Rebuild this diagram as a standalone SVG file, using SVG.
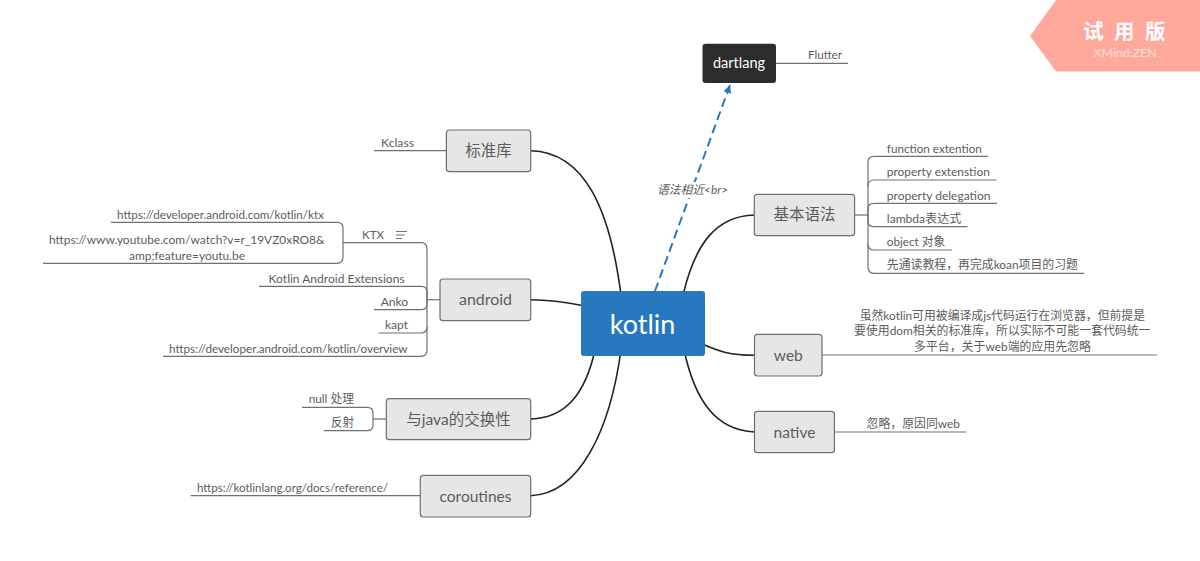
<svg xmlns="http://www.w3.org/2000/svg" width="1200" height="561" viewBox="0 0 1200 561">
<style>
text{font-family:"Lato","Noto Sans CJK SC","Noto Sans",sans-serif;fill:#5c5c5c}
.n{fill:#e6e6e6;stroke:#6f6f6f;stroke-width:1.2}
.t{font-size:15.5px;text-anchor:middle}
.l{font-size:12px;font-weight:400}
.c{fill:none;stroke:#222;stroke-width:1.6}
.b{fill:none;stroke:#707070;stroke-width:1.2}
</style>
<defs>
<marker id="ah" markerUnits="userSpaceOnUse" markerWidth="10" markerHeight="10" refX="8" refY="4" orient="auto"><path d="M0 0L8 4L0 8Z" fill="#2878c0"/></marker>
</defs>
<rect width="1200" height="561" fill="#fff"/>
<g id="connectors">
<path class="c" d="M530.7 150.7C585 152 610 210 621 295"/>
<path class="c" d="M530.7 299.7C550 299.7 565 302 585 306"/>
<path class="c" d="M530.7 419C565 418 585 395 595 350"/>
<path class="c" d="M530.7 495.7C580 494 610 430 621 350"/>
<path class="c" d="M754.5 215C715 216 695 245 683 295"/>
<path class="c" d="M754.5 355.3C730 355 720 352 700 343"/>
<path class="c" d="M754.5 432C715 430 695 400 684 350"/>
<path d="M655 291L730 85" fill="none" stroke="#2878c0" stroke-width="2" stroke-dasharray="9 5" marker-end="url(#ah)"/>
<path class="b" d="M374 150.7H446.4"/>
<path class="b" d="M440 299.700H427"/>
<path class="b" d="M343 242.700H421Q427 242.700 427 249V350Q427 356.300 421 356.300H163"/>
<path class="b" d="M259 286.300H421Q427 286.300 427 292V304Q427 309.700 421 309.700H374"/>
<path class="b" d="M378.600 333H421Q427 333 427 327"/>
<path class="b" d="M111 222.300H337Q343 222.300 343 228V257Q343 263.300 337 263.300H43"/>
<path class="b" d="M386.300 419H373"/>
<path class="b" d="M302 407.300H367Q373 407.300 373 413V425Q373 430.700 367 430.700H324"/>
<path class="b" d="M190.700 495.700H420.300"/>
<path class="b" d="M776 63.300H848"/>
<path class="b" d="M854.600 215H868"/>
<path class="b" d="M988 156.300H874Q868 156.300 868 162V267Q868 273.300 874 273.300H1084"/>
<path class="b" d="M996.400 180H874Q868 180 868 186"/>
<path class="b" d="M997 203.300H874Q868 203.300 868 209V221Q868 226.700 874 226.700H967.500"/>
<path class="b" d="M951.800 250H874Q868 250 868 244"/>
<path class="b" d="M822 355H1157"/>
<path class="b" d="M834.400 432H966.500"/>
</g>
<g id="label-relation"><rect x="657" y="182" width="71" height="16" fill="#fff"/><text x="657" y="194" font-size="12" font-style="italic" textLength="71" lengthAdjust="spacingAndGlyphs">语法相近&lt;br&gt;</text></g>
<g id="kotlin"><rect x="581" y="291" width="124" height="65" rx="3" fill="#2878c0"/><text x="642.500" y="334" font-size="27" text-anchor="middle" style="fill:#fff">kotlin</text></g>
<g id="dartlang"><rect x="702.500" y="43.700" width="73.500" height="39.300" rx="3" fill="#2c2c2c"/><text x="739" y="68" font-size="14.500" text-anchor="middle" style="fill:#fff">dartlang</text></g>
<g id="stdlib"><rect class="n" x="446.400" y="130" width="84.300" height="41.700" rx="3"/><text class="t" x="488.500" y="156">标准库</text></g>
<g id="android"><rect class="n" x="440" y="279" width="90.700" height="41.700" rx="3"/><text class="t" x="485.500" y="305" textLength="53" lengthAdjust="spacingAndGlyphs" text-anchor="start" style="text-anchor:middle">android</text></g>
<g id="java"><rect class="n" x="386.300" y="398.700" width="144.400" height="41" rx="3"/><text class="t" x="458.500" y="425">与java的交换性</text></g>
<g id="coroutines"><rect class="n" x="420.300" y="475.300" width="110.400" height="41.700" rx="3"/><text class="t" x="475.500" y="502">coroutines</text></g>
<g id="basic"><rect class="n" x="754.300" y="194.300" width="100.300" height="41.400" rx="3"/><text class="t" x="804.500" y="220">基本语法</text></g>
<g id="web"><rect class="n" x="754.500" y="334.300" width="67.500" height="41.700" rx="3"/><text class="t" x="788.300" y="361">web</text></g>
<g id="native"><rect class="n" x="754.500" y="411.300" width="79.900" height="41.400" rx="3"/><text class="t" x="794.500" y="438">native</text></g>
<g id="leaves">
<text class="l" x="381" y="147" textLength="33" lengthAdjust="spacingAndGlyphs">Kclass</text>
<text class="l" x="117" y="219" textLength="207" lengthAdjust="spacingAndGlyphs">https://developer.android.com/kotlin/ktx</text>
<text class="l" x="49" y="244" textLength="275.500" lengthAdjust="spacingAndGlyphs">https://www.youtube.com/watch?v=r_19VZ0xRO8&amp;</text>
<text class="l" x="129" y="260" textLength="116" lengthAdjust="spacingAndGlyphs">amp;feature=youtu.be</text>
<text class="l" x="362" y="239" textLength="22" lengthAdjust="spacingAndGlyphs">KTX</text>
<path class="b" d="M396 231.500H407M396 235H405M396 238.500H402" stroke-width="1"/>
<text class="l" x="268.600" y="283" textLength="136" lengthAdjust="spacingAndGlyphs">Kotlin Android Extensions</text>
<text class="l" x="380.700" y="306" textLength="27.500" lengthAdjust="spacingAndGlyphs">Anko</text>
<text class="l" x="385" y="329" textLength="23" lengthAdjust="spacingAndGlyphs">kapt</text>
<text class="l" x="169" y="353" textLength="238.500" lengthAdjust="spacingAndGlyphs">https://developer.android.com/kotlin/overview</text>
<text class="l" x="308.700" y="403" textLength="45.300" lengthAdjust="spacingAndGlyphs">null 处理</text>
<text class="l" x="331" y="427" textLength="23" lengthAdjust="spacingAndGlyphs">反射</text>
<text class="l" x="197" y="492" textLength="191" lengthAdjust="spacingAndGlyphs">https://kotlinlang.org/docs/reference/</text>
<text class="l" x="808" y="59" textLength="34" lengthAdjust="spacingAndGlyphs">Flutter</text>
<text class="l" x="886.800" y="153" textLength="95" lengthAdjust="spacingAndGlyphs">function extention</text>
<text class="l" x="886.800" y="176" textLength="103" lengthAdjust="spacingAndGlyphs">property extenstion</text>
<text class="l" x="886.800" y="200" textLength="103.700" lengthAdjust="spacingAndGlyphs">property delegation</text>
<text class="l" x="886.800" y="223" textLength="74.500" lengthAdjust="spacingAndGlyphs">lambda表达式</text>
<text class="l" x="886.800" y="246" textLength="58.500" lengthAdjust="spacingAndGlyphs">object 对象</text>
<text class="l" x="886.800" y="269" textLength="191.200" lengthAdjust="spacingAndGlyphs">先通读教程，再完成koan项目的习题</text>
<text class="l" x="859.700" y="320" textLength="285.300" lengthAdjust="spacingAndGlyphs">虽然kotlin可用被编译成js代码运行在浏览器，但前提是</text>
<text class="l" x="854" y="335" textLength="296.500" lengthAdjust="spacingAndGlyphs">要使用dom相关的标准库，所以实际不可能一套代码统一</text>
<text class="l" x="914" y="351" textLength="177" lengthAdjust="spacingAndGlyphs">多平台，关于web端的应用先忽略</text>
<text class="l" x="866.600" y="428" textLength="93.400" lengthAdjust="spacingAndGlyphs">忽略，原因同web</text>
</g>
<g id="trial-badge"><path d="M1056 0H1200V71.500H1056L1030 36Z" fill="#ffa99c"/><text x="1083 1114 1145" y="39" font-size="20.500" font-weight="700" style="fill:#fff">试用版</text><text x="1093.600" y="57" font-size="12" textLength="63" lengthAdjust="spacingAndGlyphs" style="fill:#ffe0db">XMind:ZEN</text></g>
</svg>
